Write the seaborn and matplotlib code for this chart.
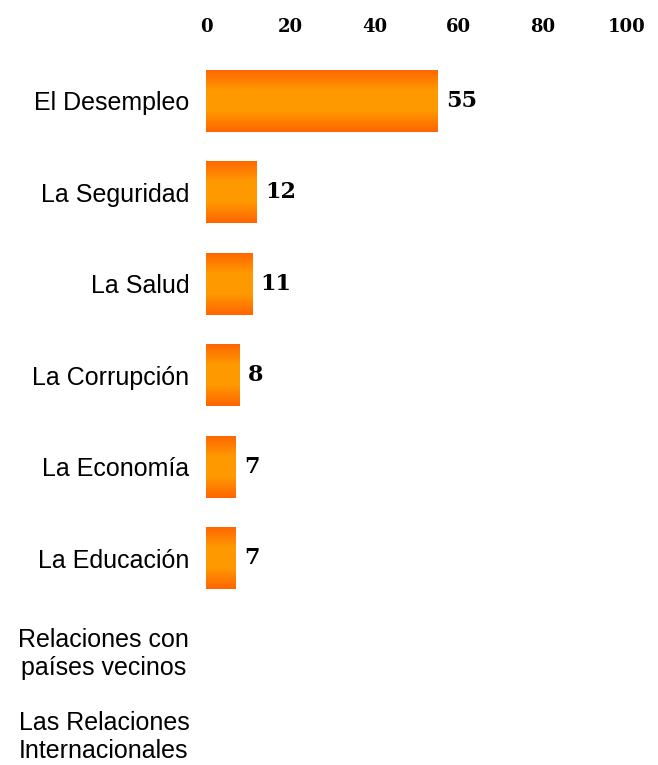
import matplotlib.pyplot as plt
import matplotlib.transforms as mtransforms
import numpy as np
import pandas as pd
import seaborn as sns
from matplotlib.colors import LinearSegmentedColormap

categorias = ["El Desempleo", "La Seguridad", "La Salud", "La Corrupción",
              "La Economía", "La Educación", "Relaciones con\npaíses vecinos",
              "Las Relaciones\nInternacionales"]
valores = [55, 12, 11, 8, 7, 7, 0, 0]
ticks = [0, 20, 40, 60, 80, 100]


def main():
    df = pd.DataFrame({"categoria": categorias, "valor": valores})

    sns.set_style("white")
    fig = plt.figure(figsize=(6.58, 7.65), dpi=100)
    ax = fig.add_axes([0.313, 0.0, 0.64, 0.928])

    sns.barplot(data=df, x="valor", y="categoria", color="#FF8000",
                width=0.68, ax=ax, orient="h")

    # degradado naranja en cada barra
    cmap = LinearSegmentedColormap.from_list(
        "naranja", ["#FF6600", "#FF9900", "#FF9900", "#FF6600"])
    grad = np.linspace(0, 1, 64).reshape(-1, 1)
    for bar in ax.patches:
        x, y = bar.get_x(), bar.get_y()
        w, h = bar.get_width(), bar.get_height()
        if w <= 0:
            continue
        bar.set_facecolor("none")
        bar.set_edgecolor("none")
        im = ax.imshow(grad, cmap=cmap, aspect="auto",
                       extent=[x, x + w, y + h, y], zorder=2)
        im.set_clip_path(bar)
        ax.text(x + w + 2, y + h / 2, f"{int(w)}", va="center", ha="left",
                family="DejaVu Serif", fontweight="bold", fontsize=16,
                color="black")

    ax.set_xlim(0, 100)
    ax.set_ylim(7.26, -0.5)
    ax.set_xticks(ticks)
    ax.xaxis.tick_top()
    ax.tick_params(axis="x", length=0, pad=14, colors="black")
    ax.tick_params(axis="y", length=0, pad=12, colors="black")
    for lab in ax.get_xticklabels():
        lab.set_family("DejaVu Serif")
        lab.set_fontweight("bold")
        lab.set_fontsize(13)
    for lab in ax.get_yticklabels():
        lab.set_family("Liberation Sans")
        lab.set_fontsize(18)
        lab.set_multialignment("center")
        lab.set_linespacing(1.2)
    # subir un poco la última etiqueta para que no se corte
    ultima = ax.get_yticklabels()[-1]
    ultima.set_transform(ultima.get_transform() + mtransforms.ScaledTranslation(
        0, 6 / 72, fig.dpi_scale_trans))
    ax.set_xlabel("")
    ax.set_ylabel("")
    sns.despine(ax=ax, left=True, bottom=True, top=True, right=True)

    fig.savefig("out.png", dpi=100)


if __name__ == "__main__":
    main()
